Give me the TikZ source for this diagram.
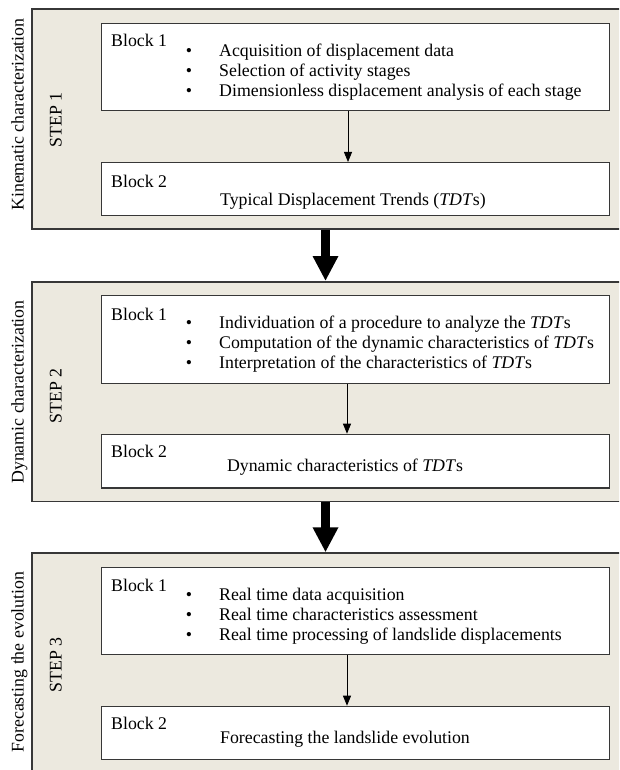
\documentclass[tikz,border=0pt]{standalone}
\usepackage{fontspec}
\setmainfont{Liberation Serif}
\usetikzlibrary{arrows.meta}
\definecolor{beige}{RGB}{236,233,223}
\definecolor{edge}{RGB}{55,55,55}
\begin{document}
\begin{tikzpicture}[x=1pt,y=-1pt,
  outer/.style={draw=edge, line width=1.6pt, fill=beige, anchor=north west, inner sep=0pt, minimum width=600pt},
  block/.style={draw=edge, line width=1.3pt, fill=white, anchor=north west, inner sep=0pt, minimum width=508pt},
  txt/.style={anchor=base west, inner sep=0pt, font=\fontsize{17.8}{20}\selectfont},
  ctxt/.style={anchor=base, inner sep=0pt, font=\fontsize{17.8}{20}\selectfont},
  bul/.style={anchor=base, inner sep=0pt, font=\fontsize{17.8}{20}\selectfont},
  side/.style={anchor=base, rotate=90, inner sep=0pt, font=\fontsize{17.8}{20}\selectfont},
  big/.style={draw=black, line width=9pt, -{Triangle[width=24pt,length=25pt]}},
  small/.style={draw=black, line width=0.8pt, -{Triangle[width=8pt,length=10pt]}}]
\useasboundingbox (0,0) rectangle (619,770);
\clip (0,0) rectangle (619,770);
\fill[white] (0,0) rectangle (619,770);
% outer step boxes
\node[outer, minimum height=220.3pt] (s1) at (31,8) {};
\node[outer, minimum height=219.7pt] (s2) at (31,281) {};
\node[outer, minimum height=240pt] (s3) at (31,552.3) {};
% blocks
\node[block, minimum height=87.3pt] (b11) at (101,22.7) {};
\node[block, minimum height=53pt] (b12) at (101,162) {};
\node[block, minimum height=87.7pt] (b21) at (101,295) {};
\node[block, minimum height=53.6pt] (b22) at (101,433.7) {};
\node[block, minimum height=87.3pt] (b31) at (101,566.7) {};
\node[block, minimum height=53.3pt] (b32) at (101,705.7) {};
% side labels
\node[side] (k1) at (23.5,114.5) {Kinematic characterization};
\node[side] (k2) at (23.5,392) {Dynamic characterization};
\node[side] (k3) at (23.5,662) {Forecasting the evolution};
\node[side] (st1) at (61.7,120) {STEP 1};
\node[side] (st2) at (61.7,395.8) {STEP 2};
\node[side] (st3) at (61.7,664.7) {STEP 3};
% step 1 texts
\node[txt] (l11) at (111,47) {Block 1};
\node[bul] (d111) at (189,57) {•};
\node[bul] (d112) at (189,77) {•};
\node[bul] (d113) at (189,97) {•};
\node[txt] (t111) at (219,57) {Acquisition of displacement data};
\node[txt] (t112) at (219,77) {Selection of activity stages};
\node[txt] (t113) at (219,97) {Dimensionless displacement analysis of each stage};
\node[txt] (l12) at (111,187) {Block 2};
\node[ctxt] (t121) at (353,205) {Typical Displacement Trends (\textit{TDT}s)};
% step 2 texts
\node[txt] (l21) at (111,320) {Block 1};
\node[bul] (d211) at (189,328.3) {•};
\node[bul] (d212) at (189,348.3) {•};
\node[bul] (d213) at (189,368.3) {•};
\node[txt] (t211) at (219,328.3) {Individuation of a procedure to analyze the \textit{TDT}s};
\node[txt] (t212) at (219,348.3) {Computation of the dynamic characteristics of \textit{TDT}s};
\node[txt] (t213) at (219,368.3) {Interpretation of the characteristics of \textit{TDT}s};
\node[txt] (l22) at (111,457) {Block 2};
\node[ctxt] (t221) at (345,471) {Dynamic characteristics of \textit{TDT}s};
% step 3 texts
\node[txt] (l31) at (111,591.7) {Block 1};
\node[bul] (d311) at (189,600.7) {•};
\node[bul] (d312) at (189,620.7) {•};
\node[bul] (d313) at (189,640.3) {•};
\node[txt] (t311) at (219,600.7) {Real time data acquisition};
\node[txt] (t312) at (219,620.7) {Real time characteristics assessment};
\node[txt] (t313) at (219,640.3) {Real time processing of landslide displacements};
\node[txt] (l32) at (111,729) {Block 2};
\node[ctxt] (t321) at (345,743.3) {Forecasting the landslide evolution};
% arrows
\coordinate (ax) at (325.5,0);
\coordinate (sx1) at (348,0);
\coordinate (sx2) at (347,0);
\draw[small] (b11.south -| sx1) -- (b12.north -| sx1);
\draw[small] (b21.south -| sx2) -- (b22.north -| sx2);
\draw[small] (b31.south -| sx2) -- (b32.north -| sx2);
\draw[big] (s1.south -| ax) -- (s2.north -| ax);
\draw[big] (s2.south -| ax) -- (s3.north -| ax);
\end{tikzpicture}
\end{document}
